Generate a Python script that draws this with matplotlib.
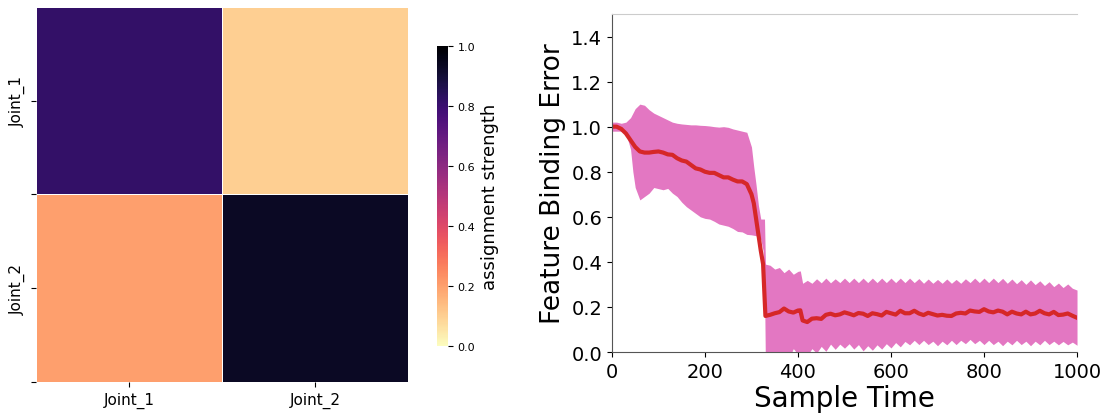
import numpy as np
import matplotlib
matplotlib.use('Agg')
import matplotlib.pyplot as plt
import seaborn as sns

# heatmap de atribuicao
juntas = ['Joint_1', 'Joint_2']
forca = [[0.82, 0.10],
         [0.20, 0.93]]

# curva de erro (media e faixa)
tempo = [0, 10, 20, 30, 40, 45, 50, 60, 70, 80, 90, 100, 110, 120, 130, 140, 150, 160, 170, 180,
         190, 200, 210, 220, 230, 240, 250, 260, 270, 280, 290, 300, 305, 310, 315, 320,
         325, 328, 330, 340, 350, 360, 370, 380, 390, 400, 405, 410, 420, 430, 440, 450,
         460, 470, 480, 490, 500, 510, 520, 530, 540, 550, 560, 570, 580, 590, 600, 610,
         620, 630, 640, 650, 660, 670, 680, 690, 700, 710, 720, 730, 740, 750, 760, 770,
         780, 790, 800, 810, 820, 830, 840, 850, 860, 870, 880, 890, 900, 910, 920, 930,
         940, 950, 960, 970, 980, 990, 1000]
media = [1.00, 1.00, 0.99, 0.97, 0.94, 0.925, 0.91, 0.89, 0.885, 0.885, 0.888, 0.89, 0.885, 0.877,
         0.875, 0.86, 0.85, 0.845, 0.83, 0.815, 0.81, 0.80, 0.795, 0.795, 0.785, 0.775, 0.775,
         0.765, 0.757, 0.757, 0.745, 0.70, 0.66, 0.59, 0.52, 0.45, 0.39, 0.25, 0.16,
         0.165, 0.172, 0.177, 0.193, 0.18, 0.175, 0.184, 0.185, 0.14, 0.133, 0.148, 0.15, 0.147,
         0.165, 0.170, 0.163, 0.167, 0.176, 0.170, 0.163, 0.173, 0.170, 0.160, 0.172, 0.168,
         0.162, 0.178, 0.172, 0.166, 0.183, 0.172, 0.172, 0.183, 0.171, 0.164, 0.174, 0.168,
         0.162, 0.165, 0.161, 0.160, 0.171, 0.174, 0.171, 0.184, 0.180, 0.178, 0.190, 0.180, 0.176,
         0.184, 0.179, 0.167, 0.179, 0.171, 0.167, 0.179, 0.167, 0.171, 0.183, 0.172, 0.167, 0.178,
         0.164, 0.166, 0.171, 0.161, 0.152]
superior = [1.02, 1.02, 1.015, 1.02, 1.04, 1.06, 1.08, 1.10, 1.095, 1.075, 1.06, 1.05, 1.04, 1.03,
            1.02, 1.015, 1.012, 1.01, 1.008, 1.008, 1.006, 1.005, 1.003, 1.0, 0.998, 1.0, 0.997,
            0.99, 0.985, 0.98, 0.975, 0.91, 0.82, 0.74, 0.65, 0.59, 0.59, 0.59, 0.39,
            0.385, 0.368, 0.375, 0.352, 0.368, 0.345, 0.358, 0.36, 0.305, 0.318, 0.305, 0.325, 0.307,
            0.328, 0.307, 0.325, 0.308, 0.328, 0.308, 0.328, 0.308, 0.328, 0.308, 0.328, 0.308,
            0.328, 0.308, 0.328, 0.308, 0.328, 0.308, 0.328, 0.308, 0.326, 0.305, 0.324, 0.305,
            0.322, 0.305, 0.324, 0.305, 0.322, 0.305, 0.325, 0.308, 0.328, 0.308, 0.328, 0.308, 0.328,
            0.308, 0.327, 0.305, 0.324, 0.303, 0.321, 0.300, 0.320, 0.299, 0.316, 0.295, 0.312, 0.290,
            0.306, 0.286, 0.302, 0.283, 0.275]
inferior = [0.98, 0.98, 0.98, 0.97, 0.90, 0.80, 0.73, 0.675, 0.69, 0.705, 0.73, 0.725, 0.72, 0.726,
            0.705, 0.69, 0.665, 0.645, 0.63, 0.615, 0.60, 0.593, 0.59, 0.58, 0.568, 0.563, 0.558,
            0.548, 0.535, 0.533, 0.522, 0.52, 0.518, 0.516, 0.51, 0.50, 0.45, 0.30, -0.06,
            -0.05, -0.02, -0.04, -0.01, -0.03, 0.015, -0.01, 0.0, 0.0, -0.015, 0.015, -0.005, 0.025,
            0.003, 0.035, 0.012, 0.035, 0.017, 0.037, 0.013, 0.033, 0.005, 0.028, 0.008, 0.032,
            0.013, 0.037, 0.018, 0.042, 0.023, 0.047, 0.032, 0.052, 0.033, 0.052, 0.033, 0.048,
            0.028, 0.048, 0.032, 0.052, 0.033, 0.052, 0.037, 0.056, 0.037, 0.052, 0.033, 0.052, 0.033,
            0.048, 0.028, 0.048, 0.032, 0.052, 0.033, 0.048, 0.028, 0.048, 0.032, 0.052, 0.033, 0.048,
            0.032, 0.047, 0.032, 0.044, 0.03]

fig = plt.figure(figsize=(11.06, 4.14), dpi=100)

ax1 = fig.add_axes([0.0325, 0.075, 0.3365, 0.906])
cax = fig.add_axes([0.395, 0.162, 0.01, 0.725])
sns.heatmap(np.array(forca), ax=ax1, cbar_ax=cax, cmap='magma_r', vmin=0, vmax=1,
            linewidths=0.6, linecolor='white', xticklabels=juntas, yticklabels=juntas)
ax1.set_yticks([0.5, 1, 1.5, 2])
ax1.set_yticklabels(['Joint_1', '', 'Joint_2', ''], rotation=90, va='center', fontsize=11)
ax1.set_xticklabels(juntas, fontsize=11)
cax.tick_params(labelsize=8)
cax.set_ylabel('assignment strength', fontsize=13)

ax2 = fig.add_axes([0.5533, 0.1473, 0.4205, 0.8165])
ax2.fill_between(tempo, inferior, superior, color='#e377c2', linewidth=0)
ax2.plot(tempo, media, color='#d62728', linewidth=3)
ax2.set_xlim(0, 1000)
ax2.set_ylim(0, 1.5)
ax2.set_yticks([0, 0.2, 0.4, 0.6, 0.8, 1.0, 1.2, 1.4])
ax2.tick_params(labelsize=14)
ax2.set_xlabel('Sample Time', fontsize=20, labelpad=2)
ax2.set_ylabel('Feature Binding Error', fontsize=19)
ax2.spines['right'].set_visible(False)
ax2.spines['top'].set_color('#cccccc')
ax2.spines['left'].set_color('#555555')
ax2.spines['bottom'].set_color('#555555')

plt.savefig('out.png', dpi=100)
